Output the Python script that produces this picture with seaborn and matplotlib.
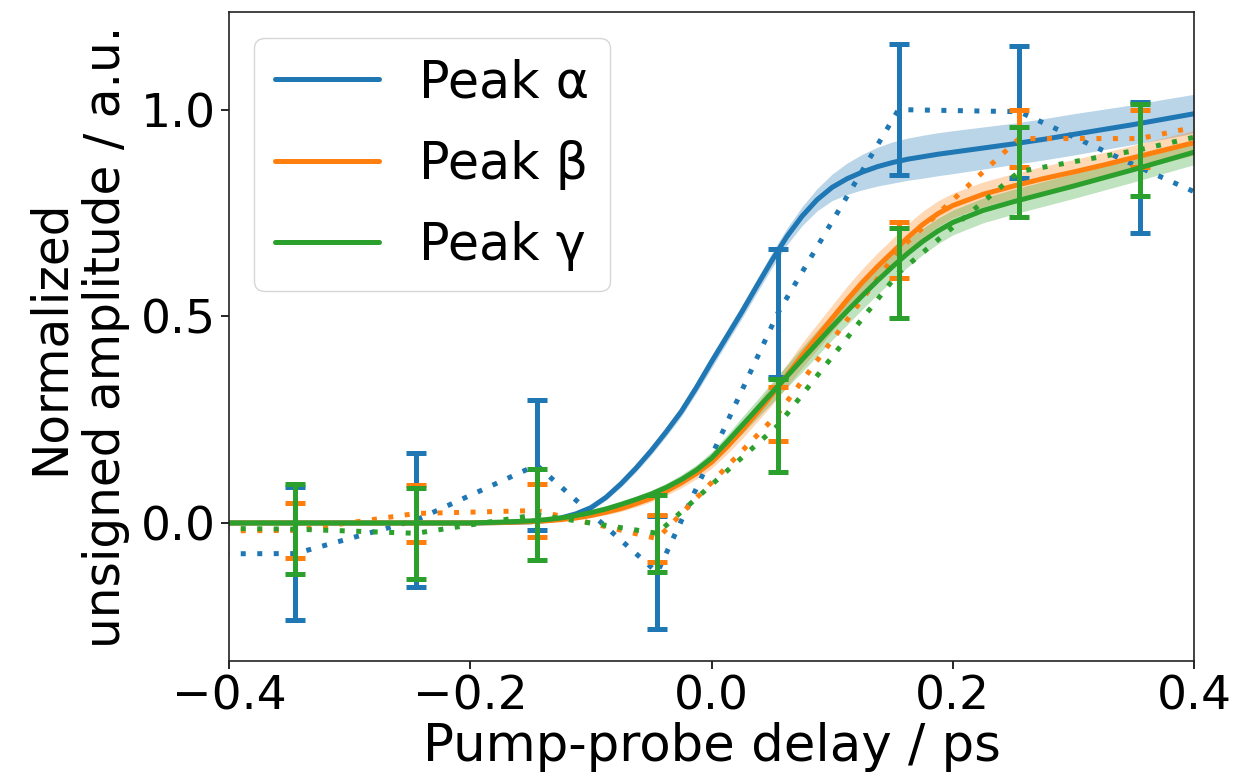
import numpy as np
import matplotlib
matplotlib.use("Agg")
import matplotlib.pyplot as plt
import seaborn as sns

# measured points (pump-probe delay in ps); the two outer points lie outside the view
delay = [-0.445, -0.345, -0.245, -0.145, -0.045, 0.055, 0.155, 0.255, 0.355, 0.455]

alpha_amp = [-0.075, -0.074, 0.007, 0.14, -0.12, 0.508, 1.0, 0.995, 0.86, 0.73]
alpha_err = [0.16, 0.161, 0.162, 0.157, 0.137, 0.155, 0.159, 0.16, 0.159, 0.16]

beta_amp = [-0.02, -0.018, 0.023, 0.03, -0.038, 0.264, 0.66, 0.93, 0.93, 0.99]
beta_err = [0.066, 0.066, 0.069, 0.065, 0.057, 0.065, 0.067, 0.069, 0.07, 0.07]

gamma_amp = [-0.012, -0.015, -0.025, 0.02, -0.025, 0.236, 0.605, 0.85, 0.903, 0.97]
gamma_err = [0.109, 0.109, 0.11, 0.11, 0.093, 0.112, 0.109, 0.109, 0.111, 0.11]

# fitted curves
fit_t = [-0.4, -0.35, -0.3, -0.25, -0.2, -0.175,
         -0.15, -0.1375, -0.125, -0.1125, -0.1, -0.0875, -0.075, -0.0625,
         -0.05, -0.0375, -0.025, -0.0125, 0.0, 0.0125, 0.025, 0.0375,
         0.05, 0.0625, 0.075, 0.0875, 0.1, 0.1125, 0.125, 0.1375,
         0.15, 0.1625, 0.175, 0.1875, 0.2,
         0.225, 0.25, 0.275, 0.3, 0.325, 0.35, 0.375, 0.4]

alpha_fit = [0, 0, 0, 0, 0, 0.001,
             0.003, 0.006, 0.012, 0.022, 0.037, 0.062, 0.095, 0.133,
             0.175, 0.221, 0.27, 0.328, 0.39, 0.45, 0.51, 0.573,
             0.635, 0.693, 0.742, 0.782, 0.812, 0.833, 0.849, 0.862,
             0.872, 0.88, 0.886, 0.892, 0.897,
             0.907, 0.917, 0.928, 0.94, 0.952, 0.964, 0.977, 0.99]
alpha_band = [0, 0, 0, 0, 0, 0.001,
              0.002, 0.003, 0.004, 0.005, 0.006, 0.007, 0.008, 0.009,
              0.01, 0.011, 0.012, 0.013, 0.015, 0.015, 0.016, 0.017,
              0.018, 0.02, 0.023, 0.027, 0.032, 0.038, 0.043, 0.047,
              0.05, 0.051, 0.052, 0.052, 0.052,
              0.051, 0.05, 0.05, 0.05, 0.049, 0.048, 0.048, 0.047]

beta_fit = [0, 0, 0, 0, 0, 0.001,
            0.003, 0.005, 0.008, 0.012, 0.018, 0.026, 0.035, 0.047,
            0.06, 0.077, 0.097, 0.12, 0.147, 0.183, 0.223, 0.266,
            0.31, 0.357, 0.405, 0.45, 0.495, 0.54, 0.582, 0.62,
            0.655, 0.69, 0.722, 0.748, 0.768,
            0.795, 0.815, 0.833, 0.849, 0.866, 0.884, 0.902, 0.92]
beta_band = [0, 0, 0, 0, 0, 0.001,
             0.002, 0.003, 0.003, 0.004, 0.005, 0.006, 0.007, 0.008,
             0.009, 0.01, 0.012, 0.013, 0.015, 0.017, 0.02, 0.022,
             0.025, 0.027, 0.03, 0.031, 0.032, 0.033, 0.033, 0.033,
             0.033, 0.033, 0.032, 0.031, 0.03,
             0.03, 0.03, 0.03, 0.03, 0.03, 0.03, 0.03, 0.03]

gamma_fit = [0, 0, 0, 0, 0, 0.002,
             0.005, 0.008, 0.012, 0.018, 0.025, 0.034, 0.045, 0.057,
             0.07, 0.086, 0.105, 0.128, 0.157, 0.195, 0.235, 0.275,
             0.315, 0.355, 0.395, 0.435, 0.475, 0.513, 0.55, 0.586,
             0.62, 0.652, 0.681, 0.706, 0.727,
             0.756, 0.777, 0.796, 0.815, 0.835, 0.855, 0.876, 0.897]
gamma_band = list(beta_band)

labels = ["Peak α", "Peak β", "Peak γ"]
colors = ["#1f77b4", "#ff7f0e", "#2ca02c"]

sns.set_style("ticks")
plt.rcParams['font.family'] = ['DejaVu Sans']
plt.rcParams.update({"text.color": "black", "axes.labelcolor": "black",
                     "xtick.color": "black", "ytick.color": "black"})

fig, ax = plt.subplots(figsize=(12.38, 7.8), dpi=100)
fig.subplots_adjust(left=0.185, right=0.9645, bottom=0.152, top=0.984)

series = [
    (alpha_amp, alpha_err, alpha_fit, alpha_band),
    (beta_amp, beta_err, beta_fit, beta_band),
    (gamma_amp, gamma_err, gamma_fit, gamma_band),
]

handles = []
for (amp, err, fit, band), lab, col in zip(series, labels, colors):
    fit_a = np.array(fit)
    band_a = np.array(band)
    ax.fill_between(fit_t, fit_a - band_a, fit_a + band_a, color=col, alpha=0.3, lw=0)
    sns.lineplot(x=fit_t, y=fit, ax=ax, color=col, lw=3.6, sort=False)
    handles.append(ax.lines[-1])
    sns.lineplot(x=delay, y=amp, ax=ax, color=col, lw=3.6, sort=False,
                 dashes=False, linestyle=(0, (1, 2.3)))
    ax.errorbar(delay, amp, yerr=err, fmt='none', ecolor=col, elinewidth=3.6,
                capsize=7.5, capthick=3.6)

ax.set_xlim(-0.4, 0.4)
ax.set_ylim(-0.335, 1.235)
ax.set_xticks([-0.4, -0.2, 0.0, 0.2, 0.4])
ax.set_yticks([0.0, 0.5, 1.0])
ax.tick_params(labelsize=34, length=6, width=1.2)
for s in ax.spines.values():
    s.set_visible(True)
    s.set_linewidth(1.2)
    s.set_color("#222222")

ax.set_xlabel("Pump-probe delay / ps", fontsize=37, labelpad=2)
ax.set_ylabel("Normalized\nunsigned amplitude / a.u.", fontsize=35, labelpad=8)

ax.legend(handles=handles, labels=labels, loc="upper left", fontsize=36.5,
          frameon=True, handlelength=2.05, labelspacing=0.62)

fig.savefig("out.png", dpi=100)
